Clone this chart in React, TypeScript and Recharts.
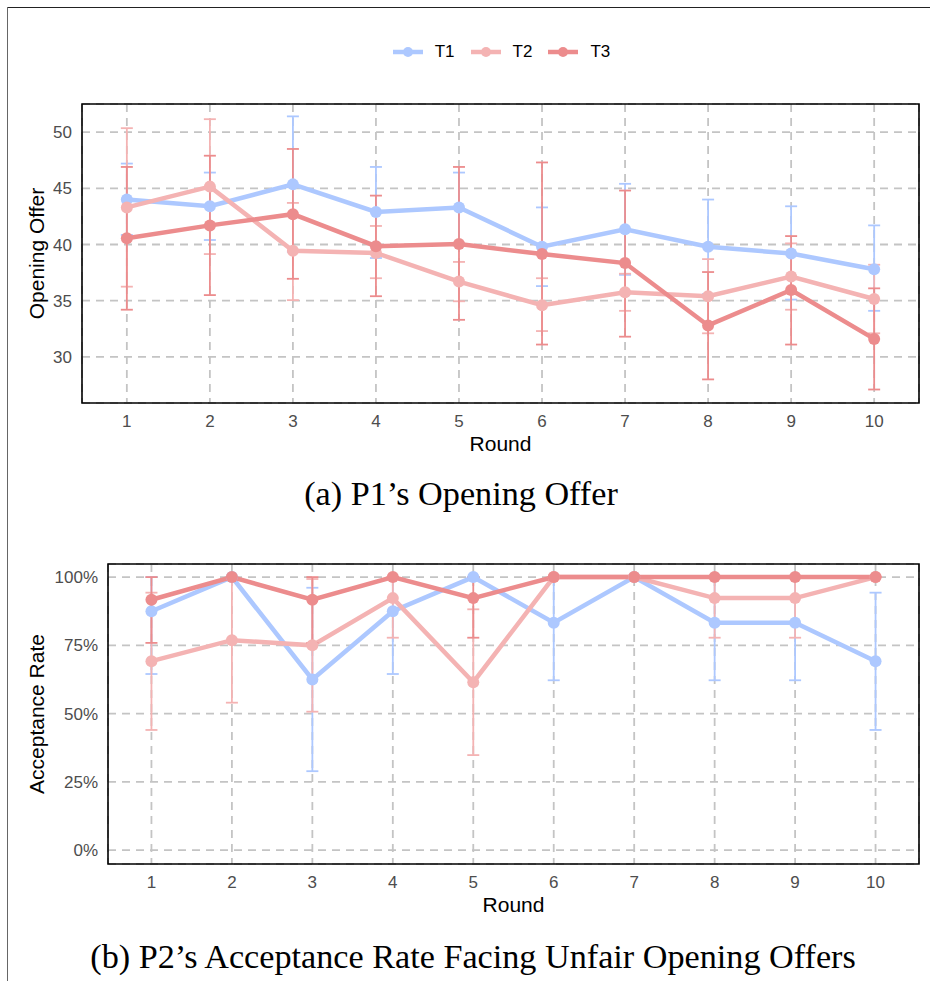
import React from 'react';
import {
  LineChart,
  Line,
  XAxis,
  YAxis,
  CartesianGrid,
  ErrorBar,
  Legend,
  ReferenceArea,
} from 'recharts';

// Rounds of the game
const rounds = [1, 2, 3, 4, 5, 6, 7, 8, 9, 10];

// P1 opening offer: mean with lower / upper bounds of the error bar
const t1Offer = [44.0, 43.4, 45.35, 42.9, 43.3, 39.8, 41.35, 39.8, 39.2, 37.8];
const t1OfferLo = [40.85, 40.4, 39.35, 38.8, 40.1, 36.3, 37.3, 35.6, 35.1, 34.1];
const t1OfferHi = [47.2, 46.4, 51.4, 46.9, 46.4, 43.3, 45.4, 44.0, 43.4, 41.7];

const t2Offer = [43.3, 45.15, 39.45, 39.25, 36.7, 34.6, 35.75, 35.4, 37.15, 35.15];
const t2OfferLo = [36.25, 39.15, 35.05, 37.0, 34.95, 32.3, 34.1, 32.1, 34.2, 32.1];
const t2OfferHi = [50.35, 51.15, 43.7, 41.65, 38.45, 37.0, 37.4, 38.7, 40.1, 38.2];

const t3Offer = [40.55, 41.7, 42.7, 39.85, 40.05, 39.15, 38.35, 32.8, 35.95, 31.6];
const t3OfferLo = [34.2, 35.5, 36.95, 35.4, 33.3, 31.1, 31.8, 28.0, 31.1, 27.1];
const t3OfferHi = [46.9, 47.9, 48.5, 44.35, 46.9, 47.3, 44.8, 37.55, 40.75, 36.1];

const offerTicks = [30, 35, 40, 45, 50];

// P2 acceptance rate of unfair opening offers (share), bounds capped at 100%
const t1Acc = [0.875, 1, 0.625, 0.875, 1, 0.833, 1, 0.833, 0.833, 0.692];
const t1AccLo = [0.645, 1, 0.289, 0.645, 1, 0.622, 1, 0.622, 0.622, 0.44];
const t1AccHi = [1, 1, 0.961, 1, 1, 1, 1, 1, 1, 0.943];

const t2Acc = [0.692, 0.769, 0.75, 0.923, 0.615, 1, 1, 0.923, 0.923, 1];
const t2AccLo = [0.44, 0.54, 0.507, 0.778, 0.348, 1, 1, 0.778, 0.778, 1];
const t2AccHi = [0.943, 1, 0.993, 1, 0.882, 1, 1, 1, 1, 1];

const t3Acc = [0.917, 1, 0.917, 1, 0.923, 1, 1, 1, 1, 1];
const t3AccLo = [0.759, 1, 0.759, 1, 0.778, 1, 1, 1, 1, 1];
const t3AccHi = [1, 1, 1, 1, 1, 1, 1, 1, 1, 1];

const accTicks = [0, 0.25, 0.5, 0.75, 1];

const seriesNames = ['T1', 'T2', 'T3'];
const seriesColors = ['#ADC8FF', '#F4B3B3', '#EC8C8D'];

const err = (v: number[], lo: number[], hi: number[], i: number) => [
  v[i] - lo[i],
  hi[i] - v[i],
];

const offerData = rounds.map((r, i) => ({
  round: r,
  T1: t1Offer[i],
  T2: t2Offer[i],
  T3: t3Offer[i],
  T1err: err(t1Offer, t1OfferLo, t1OfferHi, i),
  T2err: err(t2Offer, t2OfferLo, t2OfferHi, i),
  T3err: err(t3Offer, t3OfferLo, t3OfferHi, i),
}));

const accData = rounds.map((r, i) => ({
  round: r,
  T1: t1Acc[i],
  T2: t2Acc[i],
  T3: t3Acc[i],
  T1err: err(t1Acc, t1AccLo, t1AccHi, i),
  T2err: err(t2Acc, t2AccLo, t2AccHi, i),
  T3err: err(t3Acc, t3AccLo, t3AccHi, i),
}));

const SANS = '"Liberation Sans", Arial, Helvetica, sans-serif';
const SERIF = '"Liberation Serif", "Times New Roman", serif';
const X_DOMAIN: [number, number] = [0.46, 10.54];

const tickStyle = { fill: '#4d4d4d', fontSize: 17, fontFamily: SANS };
const titleStyle = { fill: '#000', fontSize: 21, fontFamily: SANS, textAnchor: 'middle' as const };

const LegendContent = () => (
  <div
    style={{
      height: 72,
      boxSizing: 'border-box',
      paddingLeft: 84,
      display: 'flex',
      justifyContent: 'center',
      alignItems: 'flex-start',
      fontFamily: SANS,
      fontSize: 17,
      color: '#000',
    }}
  >
    {seriesNames.map((name, i) => (
      <div
        key={name}
        style={{
          display: 'flex',
          alignItems: 'center',
          height: 40,
          marginRight: i < seriesNames.length - 1 ? 16 : 0,
        }}
      >
        <svg width={30} height={12} style={{ marginRight: 12 }}>
          <line x1={0} y1={6} x2={30} y2={6} stroke={seriesColors[i]} strokeWidth={4.5} />
          <circle cx={15} cy={6} r={5} fill={seriesColors[i]} />
        </svg>
        <span>{name}</span>
      </div>
    ))}
  </div>
);

const renderSeries = () =>
  seriesNames.map((name, i) => (
    <Line
      key={name}
      type="linear"
      dataKey={name}
      stroke={seriesColors[i]}
      strokeWidth={4.5}
      dot={{ r: 6, fill: seriesColors[i], stroke: seriesColors[i], strokeWidth: 0 }}
      activeDot={false}
      isAnimationActive={false}
      legendType="line"
    >
      <ErrorBar
        dataKey={`${name}err`}
        direction="y"
        width={6}
        stroke={seriesColors[i]}
        strokeWidth={1.8}
        isAnimationActive={false}
      />
    </Line>
  ));

const gridProps = {
  stroke: '#c4c4c4',
  strokeWidth: 1.8,
  strokeDasharray: '8 6',
};

const captionStyle = {
  position: 'absolute' as const,
  left: 0,
  textAlign: 'center' as const,
  fontFamily: SERIF,
  fontSize: 34.2,
  lineHeight: '34px',
  color: '#000',
  whiteSpace: 'nowrap' as const,
};

export default function App() {
  return (
    <div
      style={{
        position: 'absolute',
        left: 0,
        top: 0,
        width: 930,
        height: 981,
        background: '#fff',
        overflow: 'hidden',
      }}
    >
      {/* frame around the figure */}
      <div
        style={{
          position: 'absolute',
          left: 7,
          top: 7,
          width: 923,
          height: 0,
          borderTop: '1.5px solid #222',
        }}
      />
      <div
        style={{
          position: 'absolute',
          left: 7,
          top: 7,
          width: 0,
          height: 974,
          borderLeft: '1.5px solid #666',
        }}
      />

      {/* (a) opening offers */}
      <div style={{ position: 'absolute', left: 0, top: 0 }}>
        <LineChart
          width={930}
          height={463}
          data={offerData}
          margin={{ top: 32, right: 11, left: 0, bottom: 0 }}
        >
          <CartesianGrid {...gridProps} />
          <XAxis
            dataKey="round"
            type="number"
            domain={X_DOMAIN}
            ticks={rounds}
            allowDataOverflow
            axisLine={false}
            tickLine={false}
            tickSize={6}
            tickMargin={6}
            height={60}
            tick={tickStyle}
            label={{ value: 'Round', position: 'insideBottom', offset: 12, style: titleStyle }}
          />
          <YAxis
            type="number"
            domain={[25.9, 52.5]}
            ticks={offerTicks}
            allowDataOverflow
            axisLine={false}
            tickLine={false}
            tickSize={6}
            tickMargin={4}
            width={82}
            tick={tickStyle}
            label={{
              value: 'Opening Offer',
              angle: -90,
              position: 'insideLeft',
              offset: 37,
              style: titleStyle,
            }}
          />
          <Legend verticalAlign="top" align="center" content={<LegendContent />} />
          {renderSeries()}
          <ReferenceArea
            x1={X_DOMAIN[0]}
            x2={X_DOMAIN[1]}
            y1={25.9}
            y2={52.5}
            fill="none"
            stroke="#000"
            strokeWidth={1.6}
            ifOverflow="visible"
          />
        </LineChart>
      </div>

      <div style={{ ...captionStyle, top: 477, width: 922 }}>(a) P1’s Opening Offer</div>

      {/* (b) acceptance rate */}
      <div style={{ position: 'absolute', left: 0, top: 540 }}>
        <LineChart
          width={930}
          height={384}
          data={accData}
          margin={{ top: 24, right: 11, left: 0, bottom: 0 }}
        >
          <CartesianGrid {...gridProps} />
          <XAxis
            dataKey="round"
            type="number"
            domain={X_DOMAIN}
            ticks={rounds}
            allowDataOverflow
            axisLine={false}
            tickLine={false}
            tickSize={6}
            tickMargin={6}
            height={60}
            tick={tickStyle}
            label={{ value: 'Round', position: 'insideBottom', offset: 12, style: titleStyle }}
          />
          <YAxis
            type="number"
            domain={[-0.051, 1.048]}
            ticks={accTicks}
            allowDataOverflow
            axisLine={false}
            tickLine={false}
            tickSize={6}
            tickMargin={4}
            width={108}
            tick={tickStyle}
            tickFormatter={(v: number) => `${Math.round(v * 100)}%`}
            label={{
              value: 'Acceptance Rate',
              angle: -90,
              position: 'insideLeft',
              offset: 37,
              style: titleStyle,
            }}
          />
          {renderSeries()}
          <ReferenceArea
            x1={X_DOMAIN[0]}
            x2={X_DOMAIN[1]}
            y1={-0.051}
            y2={1.048}
            fill="none"
            stroke="#000"
            strokeWidth={1.6}
            ifOverflow="visible"
          />
        </LineChart>
      </div>

      <div style={{ ...captionStyle, top: 940, width: 946 }}>
        (b) P2’s Acceptance Rate Facing Unfair Opening Offers
      </div>
    </div>
  );
}
